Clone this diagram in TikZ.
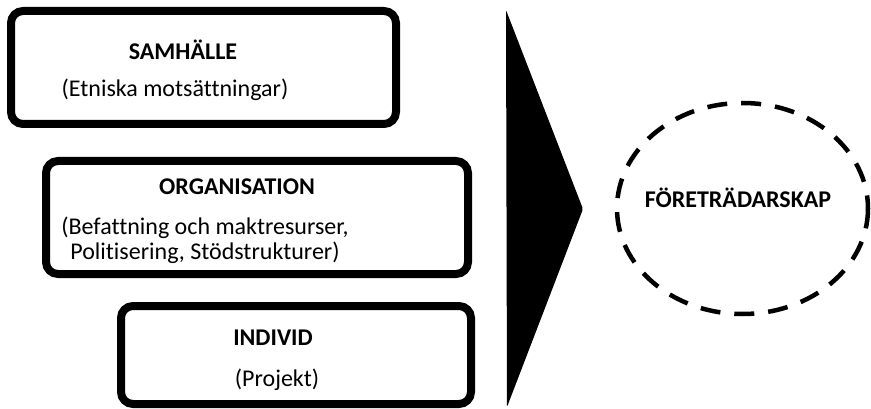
\documentclass[tikz,border=0pt]{standalone}
\usepackage{fontspec}
\setmainfont{Carlito}[Ligatures=NoCommon]
\usetikzlibrary{shadows}
\tikzset{
  level/.style={draw, line width=8pt, rounded corners=12pt, fill=white,
    drop shadow={shadow xshift=2.5pt, shadow yshift=-2.5pt, opacity=0.35}},
  head/.style={font=\fontsize{24}{28}\selectfont\bfseries},
  sub/.style={font=\fontsize{24}{25}\selectfont, align=center}
}

\begin{document}
\begin{tikzpicture}[x=1pt, y=-1pt]
\useasboundingbox (0,0) rectangle (871,409);

\node[level, minimum width=385pt, minimum height=113pt] (sam) at (203.5,67.5) {};
\node[level, minimum width=422pt, minimum height=113pt] (org) at (257,217.5) {};
\node[level, minimum width=350pt, minimum height=98pt] (ind) at (296,355) {};

\node[head] (samhead) at (183,50) {SAMHÄLLE};
\node[sub] (samsub) at (175,90) {(Etniska motsättningar)};
\node[head] (orghead) at (237,187) {ORGANISATION};
\node[sub] (orgsub) at (205,240) {(Befattning och maktresurser,\\ Politisering, Stödstrukturer)};
\node[head] (indhead) at (273,338) {INDIVID};
\node[sub] (indsub) at (277,380) {(Projekt)};

\fill[rounded corners=2pt] (506,10) -- (583,209) -- (507,407) -- cycle;

\draw[line width=4.5pt, dash pattern=on 20pt off 14pt] (742.5,208.5) ellipse [x radius=125.5, y radius=105.5];
\node[head] (lead) at (738,198) {FÖRETRÄDARSKAP};

\end{tikzpicture}
\end{document}
